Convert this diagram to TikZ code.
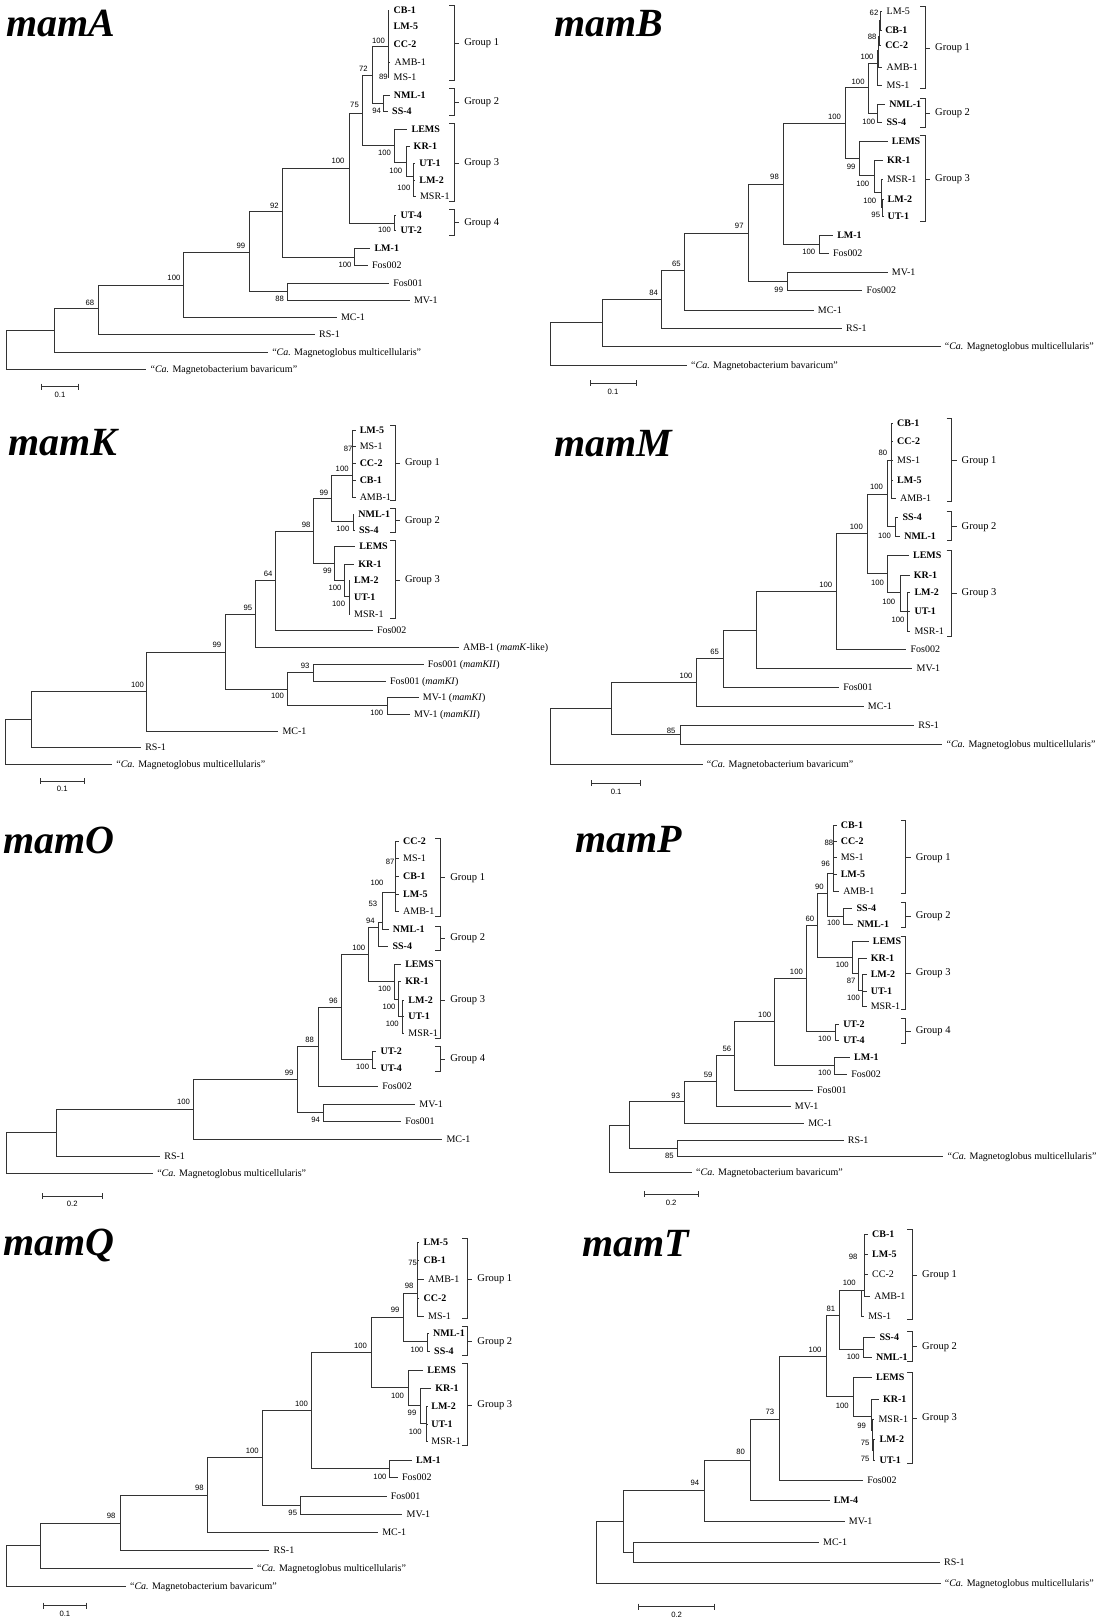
\documentclass[tikz,border=0pt]{standalone}
\usepackage{fontspec}
\setmainfont{Liberation Serif}
\newfontfamily\arialf{Liberation Sans}
\newcommand\labfont{\fontsize{10}{11}\selectfont}
\newcommand\labbfont{\fontsize{10}{11}\selectfont\bfseries}
\newcommand\bsfont{\arialf\fontsize{7.7}{8}\selectfont}
\newcommand\grfont{\fontsize{10.5}{11}\selectfont}
\newcommand\tifont{\fontsize{40}{42}\selectfont\bfseries\itshape}
\newcommand\MGm{``\textit{Ca.} Magnetoglobus multicellularis''}
\newcommand\MBb{``\textit{Ca.} Magnetobacterium bavaricum''}
\newcounter{nn}
\tikzset{
  br/.style={line width=0.8pt, draw=black!80},
  lfn/.style={anchor=west, inner xsep=4pt, inner ysep=0pt, font=\labfont, text height=6.6pt, text depth=0pt},
  lfbold/.style={lfn, font=\labbfont},
  bsn/.style={inner sep=0pt, font=\bsfont},
  grpn/.style={anchor=west, inner sep=0pt, font=\grfont},
  ttln/.style={anchor=base west, inner sep=0pt, font=\tifont},
  pan/.style={x=0.35273pt, y=-0.33333pt}
}
\newcommand\tLf[3]{\stepcounter{nn}\node[lfn] (n\arabic{nn}) at (#1) {#2}; \draw[br] (#3) |- (n\arabic{nn}.west);}
\newcommand\tLb[3]{\stepcounter{nn}\node[lfbold] (n\arabic{nn}) at (#1) {#2}; \draw[br] (#3) |- (n\arabic{nn}.west);}
\newcommand\tBs[2]{\stepcounter{nn}\node[bsn] (n\arabic{nn}) at (#1) {#2};}
\newcommand\tIn[3]{\coordinate (#1) at (#2); \draw[br] (#3) |- (#1);}
\newcommand\tGr[5]{\stepcounter{nn}\draw[br] (#1-14,#2) -- (#1,#2) -- (#1,#3) -- (#1-14,#3); \draw[br] (#1,#4) -- (#1+14,#4); \node[grpn] (n\arabic{nn}) at (#1+28,#4) {#5};}
\newcommand\tSb[4]{\stepcounter{nn}\draw[br] (#1,#3-9) -- (#1,#3+9) (#1,#3) -- (#2,#3) (#2,#3-9) -- (#2,#3+9); \node[bsn] (n\arabic{nn}) at ({(#1+#2)/2},#3+25) {#4};}
\newcommand\tTi[2]{\stepcounter{nn}\node[ttln] (n\arabic{nn}) at (#1) {#2};}
\begin{document}
\begin{tikzpicture}[x=1pt,y=-1pt]
\fill[white] (0,0) rectangle (1106,1620);
\useasboundingbox (0,0) rectangle (1106,1620);

% ---------------- mamA ----------------
\begin{scope}[shift={(0pt,0pt)},pan]
\tTi{18,110}{mamA}
\coordinate (A0) at (17,1049);
\tLf{415,1108}{\MBb}{A0}
\tIn{A1}{155,990}{A0}
\tLf{760,1057}{\MGm}{A1}
\tIn{A2}{280,925}{A1} \tBs{255,908}{68}
\tLf{893,1003}{RS-1}{A2}
\tIn{A3}{520,855}{A2} \tBs{493,835}{100}
\tLf{955,953}{MC-1}{A3}
\tIn{A4}{707,757}{A3} \tBs{683,737}{99}
\tIn{A6}{815,875}{A4} \tBs{793,898}{88}
\tLf{1103,850}{Fos001}{A6}
\tLf{1162,902}{MV-1}{A6}
\tIn{A5}{800,635}{A4} \tBs{778,617}{92}
\tIn{A8}{1005,772}{A5} \tBs{978,795}{100}
\tLb{1050,745}{LM-1}{A8}
\tLf{1043,797}{Fos002}{A8}
\tIn{A7}{990,505}{A5} \tBs{958,482}{100}
\tIn{A10}{1117,670}{A7} \tBs{1090,690}{100}
\tLb{1124,645}{UT-4}{A10}
\tLb{1124,692}{UT-2}{A10}
\tIn{A9}{1028,340}{A7} \tBs{1005,315}{75}
\tIn{A12}{1117,437}{A9} \tBs{1090,460}{100}
\tLb{1155,388}{LEMS}{A12}
\tIn{A13}{1153,487}{A12} \tBs{1122,512}{100}
\tLb{1161,440}{KR-1}{A13}
\tIn{A14}{1172,530}{A13} \tBs{1145,563}{100}
\tLb{1177,490}{UT-1}{A14}
\tLb{1177,542}{LM-2}{A14}
\tLf{1179,590}{MSR-1}{A14}
\tIn{A11}{1057,225}{A9} \tBs{1030,207}{72}
\tIn{A16}{1088,310}{A11} \tBs{1068,332}{94}
\tLb{1105,287}{NML-1}{A16}
\tLb{1100,335}{SS-4}{A16}
\tIn{A15}{1100,140}{A11} \tBs{1073,123}{100}
\tLb{1104,32}{CB-1}{A15}
\tLb{1104,78}{LM-5}{A15}
\tLb{1104,133}{CC-2}{A15}
\tLf{1107,186}{AMB-1}{A15}
\tLf{1104,232}{MS-1}{A15}
\tBs{1087,230}{89}
\tGr{1288}{15}{240}{130}{Group 1}
\tGr{1288}{265}{345}{307}{Group 2}
\tGr{1288}{370}{605}{490}{Group 3}
\tGr{1288}{628}{707}{668}{Group 4}
\tSb{118}{222}{1160}{0.1}
\end{scope}

% ---------------- mamB ----------------
\begin{scope}[shift={(553pt,0pt)},pan]
\tTi{4,108}{mamB}
\coordinate (B0) at (-6,1032);
\tLf{380,1097}{\MBb}{B0}
\tIn{B1}{140,968}{B0}
\tLf{1099,1040}{\MGm}{B1}
\tIn{B2}{308,898}{B1} \tBs{285,878}{84}
\tLf{819,985}{RS-1}{B2}
\tIn{B3}{373,812}{B2} \tBs{350,793}{65}
\tLf{739,930}{MC-1}{B3}
\tIn{B4}{553,700}{B3} \tBs{528,678}{97}
\tIn{B6}{665,845}{B4} \tBs{640,870}{99}
\tLf{949,818}{MV-1}{B6}
\tLf{877,872}{Fos002}{B6}
\tIn{B5}{653,553}{B4} \tBs{628,532}{98}
\tIn{B8}{755,733}{B5} \tBs{725,757}{100}
\tLb{794,705}{LM-1}{B8}
\tLf{782,760}{Fos002}{B8}
\tIn{B7}{828,370}{B5} \tBs{798,350}{100}
\tIn{B10}{870,475}{B7} \tBs{845,500}{99}
\tLb{949,425}{LEMS}{B10}
\tIn{B11}{910,525}{B10} \tBs{878,553}{100}
\tLb{935,480}{KR-1}{B11}
\tIn{B12}{930,578}{B11} \tBs{898,603}{100}
\tLf{935,537}{MSR-1}{B12}
\tIn{B13}{934,622}{B12} \tBs{915,645}{95}
\tLb{937,597}{LM-2}{B13}
\tLb{937,650}{UT-1}{B13}
\tIn{B9}{893,262}{B7} \tBs{865,245}{100}
\tIn{B15}{920,340}{B9} \tBs{895,365}{100}
\tLb{942,313}{NML-1}{B15}
\tLb{934,368}{SS-4}{B15}
\tIn{B14}{920,190}{B9} \tBs{890,170}{100}
\tLf{934,255}{MS-1}{B14}
\tIn{B16}{923,150}{B14}
\tLf{934,203}{AMB-1}{B16}
\tIn{B17}{926,110}{B16} \tBs{905,110}{88}
\tLb{930,135}{CC-2}{B17}
\tIn{B18}{929,62}{B17} \tBs{910,40}{62}
\tLf{934,33}{LM-5}{B18}
\tLb{930,90}{CB-1}{B18}
\tGr{1055}{18}{265}{145}{Group 1}
\tGr{1055}{295}{383}{340}{Group 2}
\tGr{1055}{405}{665}{537}{Group 3}
\tSb{105}{235}{1150}{0.1}
\end{scope}

% ---------------- mamK ----------------
\begin{scope}[shift={(0pt,-410pt)},pan]
\tTi{23,135}{mamK}
\coordinate (K0) at (15,995);
\tLf{318,1063}{\MGm}{K0}
\tIn{K1}{88,927}{K0}
\tLf{400,1013}{RS-1}{K1}
\tIn{K2}{415,843}{K1} \tBs{390,825}{100}
\tLf{789,963}{MC-1}{K2}
\tIn{K3}{638,727}{K2} \tBs{615,705}{99}
\tIn{K5}{815,837}{K3} \tBs{787,858}{100}
\tIn{K6}{888,788}{K5} \tBs{865,768}{93}
\tLf{1201,763}{Fos001 (\textit{mamKII})}{K6}
\tLf{1094,815}{Fos001 (\textit{mamKI})}{K6}
\tIn{K7}{1097,887}{K5} \tBs{1068,910}{100}
\tLf{1187,862}{MV-1 (\textit{mamKI})}{K7}
\tLf{1162,912}{MV-1 (\textit{mamKII})}{K7}
\tIn{K4}{725,613}{K3} \tBs{703,593}{95}
\tLf{1301,712}{AMB-1 (\textit{mamK}-like)}{K4}
\tIn{K8}{782,510}{K4} \tBs{760,493}{64}
\tLf{1057,660}{Fos002}{K8}
\tIn{K9}{888,365}{K8} \tBs{868,345}{98}
\tIn{K10}{940,265}{K9} \tBs{918,248}{99}
\tIn{K13}{1002,333}{K10} \tBs{972,357}{100}
\tLb{1004,313}{NML-1}{K13}
\tLb{1006,360}{SS-4}{K13}
\tIn{K12}{1000,197}{K10} \tBs{970,178}{100}
\tLb{1008,60}{LM-5}{K12}
\tLf{1008,110}{MS-1}{K12}
\tLb{1008,160}{CC-2}{K12}
\tLb{1008,212}{CB-1}{K12}
\tLf{1008,262}{AMB-1}{K12}
\tBs{987,117}{87}
\tIn{K11}{948,460}{K9} \tBs{928,483}{99}
\tLb{1007,410}{LEMS}{K11}
\tIn{K14}{975,510}{K11} \tBs{950,533}{100}
\tLb{1004,463}{KR-1}{K14}
\tIn{K15}{990,560}{K14} \tBs{960,583}{100}
\tLb{992,510}{LM-2}{K15}
\tLb{992,563}{UT-1}{K15}
\tLf{992,612}{MSR-1}{K15}
\tGr{1120}{45}{270}{160}{Group 1}
\tGr{1120}{295}{368}{332}{Group 2}
\tGr{1120}{390}{625}{510}{Group 3}
\tSb{115}{238}{1113}{0.1}
\end{scope}

% ---------------- mamM ----------------
\begin{scope}[shift={(553pt,-410pt)},pan]
\tTi{4,138}{mamM}
\coordinate (M0) at (-6,980);
\tLf{424,1063}{\MBb}{M0}
\tIn{M1}{165,895}{M0}
\tIn{M3}{360,973}{M1} \tBs{335,962}{85}
\tLf{1024,945}{RS-1}{M3}
\tLf{1104,1003}{\MGm}{M3}
\tIn{M2}{407,817}{M1} \tBs{377,797}{100}
\tLf{881,888}{MC-1}{M2}
\tIn{M4}{483,745}{M2} \tBs{458,725}{65}
\tLf{811,833}{Fos001}{M4}
\tIn{M5}{578,660}{M4}
\tLf{1019,775}{MV-1}{M5}
\tIn{M6}{803,545}{M5} \tBs{773,525}{100}
\tLf{1002,718}{Fos002}{M6}
\tIn{M7}{890,370}{M6} \tBs{860,350}{100}
\tIn{M8}{947,253}{M7} \tBs{917,230}{100}
\tIn{M11}{972,350}{M8} \tBs{940,377}{100}
\tLb{979,323}{SS-4}{M11}
\tLb{984,380}{NML-1}{M11}
\tIn{M10}{960,150}{M8} \tBs{935,130}{80}
\tLb{964,40}{CB-1}{M10}
\tLb{964,95}{CC-2}{M10}
\tLf{964,150}{MS-1}{M10}
\tLb{964,210}{LM-5}{M10}
\tLf{972,265}{AMB-1}{M10}
\tIn{M9}{948,490}{M7} \tBs{920,518}{100}
\tLb{1009,437}{LEMS}{M9}
\tIn{M12}{985,548}{M9} \tBs{952,575}{100}
\tLb{1011,495}{KR-1}{M12}
\tIn{M13}{1005,605}{M12} \tBs{978,630}{100}
\tLb{1013,548}{LM-2}{M13}
\tLb{1013,605}{UT-1}{M13}
\tLf{1013,663}{MSR-1}{M13}
\tGr{1130}{25}{275}{152}{Group 1}
\tGr{1130}{303}{390}{350}{Group 2}
\tGr{1130}{420}{678}{550}{Group 3}
\tSb{110}{248}{1120}{0.1}
\end{scope}

% ---------------- mamO ----------------
\begin{scope}[shift={(0pt,-820pt)},pan]
\tTi{8,100}{mamO}
\coordinate (O0) at (17,1000);
\tLf{434,1060}{\MGm}{O0}
\tIn{O1}{160,937}{O0}
\tLf{454,1008}{RS-1}{O1}
\tIn{O2}{548,867}{O1} \tBs{520,847}{100}
\tLf{1254,957}{MC-1}{O2}
\tIn{O3}{843,777}{O2} \tBs{820,758}{99}
\tIn{O5}{918,877}{O3} \tBs{895,900}{94}
\tLf{1177,852}{MV-1}{O5}
\tLf{1137,903}{Fos001}{O5}
\tIn{O4}{903,680}{O3} \tBs{878,660}{88}
\tLf{1072,798}{Fos002}{O4}
\tIn{O6}{967,562}{O4} \tBs{945,542}{96}
\tIn{O8}{1057,718}{O6} \tBs{1028,742}{100}
\tLb{1067,693}{UT-2}{O8}
\tLb{1067,745}{UT-4}{O8}
\tIn{O7}{1045,403}{O6} \tBs{1017,383}{100}
\tIn{O9}{1074,322}{O7} \tBs{1050,302}{94}
\tLb{1101,378}{SS-4}{O9}
\tIn{O11}{1083,306}{O9} \tBs{1057,252}{53}
\tLb{1102,327}{NML-1}{O11}
\tIn{O12}{1120,216}{O11} \tBs{1069,189}{100}
\tLb{1131,65}{CC-2}{O12}
\tLf{1131,115}{MS-1}{O12}
\tLb{1131,170}{CB-1}{O12}
\tLb{1131,222}{LM-5}{O12}
\tLf{1131,275}{AMB-1}{O12}
\tBs{1106,126}{87}
\tIn{O10}{1118,485}{O7} \tBs{1090,508}{100}
\tLb{1137,433}{LEMS}{O10}
\tIn{O13}{1130,538}{O10} \tBs{1103,560}{100}
\tLb{1137,485}{KR-1}{O13}
\tIn{O14}{1140,590}{O13} \tBs{1112,612}{100}
\tLb{1146,540}{LM-2}{O14}
\tLb{1146,590}{UT-1}{O14}
\tLf{1146,640}{MSR-1}{O14}
\tGr{1248}{55}{288}{173}{Group 1}
\tGr{1248}{318}{390}{355}{Group 2}
\tGr{1248}{422}{655}{540}{Group 3}
\tGr{1248}{680}{755}{718}{Group 4}
\tSb{120}{290}{1128}{0.2}
\end{scope}

% ---------------- mamP ----------------
\begin{scope}[shift={(553pt,-810pt)},pan]
\tTi{63,128}{mamP}
\coordinate (P0) at (160,1015);
\tLf{394,1088}{\MBb}{P0}
\tIn{P1}{217,945}{P0}
\tIn{P3}{352,1015}{P1} \tBs{330,1037}{85}
\tLf{824,990}{RS-1}{P3}
\tLf{1107,1038}{\MGm}{P3}
\tIn{P2}{372,875}{P1} \tBs{348,858}{93}
\tLf{712,940}{MC-1}{P2}
\tIn{P4}{462,813}{P2} \tBs{440,795}{59}
\tLf{674,890}{MV-1}{P4}
\tIn{P5}{515,737}{P4} \tBs{493,718}{56}
\tLf{737,842}{Fos001}{P5}
\tIn{P6}{627,635}{P5} \tBs{600,615}{100}
\tIn{P8}{798,767}{P6} \tBs{770,788}{100}
\tLb{842,742}{LM-1}{P8}
\tLf{834,793}{Fos002}{P8}
\tIn{P7}{717,505}{P6} \tBs{690,487}{100}
\tIn{P10}{800,665}{P7} \tBs{770,688}{100}
\tLb{811,642}{UT-2}{P10}
\tLb{811,692}{UT-4}{P10}
\tIn{P9}{750,345}{P7} \tBs{728,327}{60}
\tIn{P12}{848,443}{P9} \tBs{820,465}{100}
\tLb{895,395}{LEMS}{P12}
\tIn{P13}{865,490}{P12}
\tLb{889,445}{KR-1}{P13}
\tIn{P14}{878,540}{P13} \tBs{845,513}{87} \tBs{852,563}{100}
\tLb{889,493}{LM-2}{P14}
\tLb{889,543}{UT-1}{P14}
\tLf{889,590}{MSR-1}{P14}
\tIn{P11}{777,250}{P9} \tBs{755,232}{90}
\tIn{P16}{822,318}{P11} \tBs{795,340}{100}
\tLb{849,295}{SS-4}{P16}
\tLb{851,343}{NML-1}{P16}
\tIn{P15}{795,190}{P11} \tBs{773,163}{96}
\tLb{804,47}{CB-1}{P15}
\tLb{804,93}{CC-2}{P15}
\tLf{804,142}{MS-1}{P15}
\tLb{804,193}{LM-5}{P15}
\tLf{811,243}{AMB-1}{P15}
\tBs{782,100}{88}
\tGr{1000}{32}{250}{143}{Group 1}
\tGr{1000}{278}{352}{318}{Group 2}
\tGr{1000}{380}{597}{490}{Group 3}
\tGr{1000}{625}{700}{663}{Group 4}
\tSb{258}{412}{1153}{0.2}
\end{scope}

% ---------------- mamQ ----------------
\begin{scope}[shift={(0pt,-1220pt)},pan]
\tTi{8,105}{mamQ}
\coordinate (Q0) at (17,1040);
\tLf{357,1100}{\MBb}{Q0}
\tIn{Q1}{115,975}{Q0}
\tLf{717,1045}{\MGm}{Q1}
\tIn{Q2}{340,910}{Q1} \tBs{315,888}{98}
\tLf{764,990}{RS-1}{Q2}
\tIn{Q3}{588,825}{Q2} \tBs{565,805}{98}
\tLf{1072,937}{MC-1}{Q3}
\tIn{Q4}{745,713}{Q3} \tBs{715,693}{100}
\tIn{Q6}{853,855}{Q4} \tBs{830,880}{95}
\tLf{1096,828}{Fos001}{Q6}
\tLf{1141,882}{MV-1}{Q6}
\tIn{Q5}{883,572}{Q4} \tBs{855,553}{100}
\tIn{Q8}{1105,745}{Q5} \tBs{1077,770}{100}
\tLb{1168,722}{LM-1}{Q8}
\tLf{1128,772}{Fos002}{Q8}
\tIn{Q7}{1052,398}{Q5} \tBs{1022,378}{100}
\tIn{Q10}{1157,502}{Q7} \tBs{1127,527}{100}
\tLb{1200,450}{LEMS}{Q10}
\tIn{Q11}{1193,557}{Q10} \tBs{1168,580}{99}
\tLb{1222,505}{KR-1}{Q11}
\tIn{Q12}{1210,610}{Q11} \tBs{1177,635}{100}
\tLb{1211,560}{LM-2}{Q12}
\tLb{1211,613}{UT-1}{Q12}
\tLf{1211,665}{MSR-1}{Q12}
\tIn{Q9}{1143,293}{Q7} \tBs{1120,270}{99}
\tIn{Q14}{1212,365}{Q9} \tBs{1182,390}{100}
\tLb{1216,340}{NML-1}{Q14}
\tLb{1219,395}{SS-4}{Q14}
\tIn{Q13}{1183,220}{Q9} \tBs{1160,198}{98}
\tLb{1189,68}{LM-5}{Q13}
\tLb{1189,122}{CB-1}{Q13}
\tLf{1202,178}{AMB-1}{Q13}
\tLb{1189,235}{CC-2}{Q13}
\tLf{1202,288}{MS-1}{Q13}
\tBs{1170,130}{75}
\tGr{1325}{55}{295}{178}{Group 1}
\tGr{1325}{320}{407}{365}{Group 2}
\tGr{1325}{430}{677}{555}{Group 3}
\tSb{123}{245}{1157}{0.1}
\end{scope}

% ---------------- mamT ----------------
\begin{scope}[shift={(553pt,-1220pt)},pan]
\tTi{83,110}{mamT}
\coordinate (T0) at (123,1000);
\tLf{1099,1090}{\MGm}{T0}
\tIn{T1}{200,905}{T0}
\tIn{T3}{227,998}{T1}
\tLf{754,967}{MC-1}{T3}
\tLf{1097,1027}{RS-1}{T3}
\tIn{T2}{430,812}{T1} \tBs{402,790}{94}
\tLf{827,905}{MV-1}{T2}
\tIn{T4}{560,720}{T2} \tBs{532,697}{80}
\tLb{784,842}{LM-4}{T4}
\tIn{T5}{643,597}{T4} \tBs{615,575}{73}
\tLf{879,782}{Fos002}{T5}
\tIn{T6}{774,410}{T5} \tBs{743,390}{100}
\tIn{T8}{852,530}{T6} \tBs{820,558}{100}
\tLb{904,473}{LEMS}{T8}
\tIn{T9}{903,590}{T8}
\tLb{924,537}{KR-1}{T9}
\tIn{T10}{905,630}{T9} \tBs{875,617}{99}
\tLf{911,598}{MSR-1}{T10}
\tIn{T11}{907,690}{T10} \tBs{885,670}{75}
\tLb{914,657}{LM-2}{T11}
\tLb{914,720}{UT-1}{T11}
\tBs{885,717}{75}
\tIn{T7}{811,285}{T6} \tBs{788,267}{81}
\tIn{T14}{880,387}{T7} \tBs{851,412}{100}
\tLb{914,352}{SS-4}{T14}
\tLb{904,412}{NML-1}{T14}
\tIn{T13}{874,210}{T7} \tBs{840,190}{100}
\tLf{882,290}{MS-1}{T13}
\tIn{T15}{882,210}{T13} \tBs{851,111}{98}
\tLb{893,43}{CB-1}{T15}
\tLb{893,102}{LM-5}{T15}
\tLf{893,163}{CC-2}{T15}
\tLf{899,228}{AMB-1}{T15}
\tGr{1018}{28}{298}{165}{Group 1}
\tGr{1018}{335}{425}{380}{Group 2}
\tGr{1018}{458}{730}{595}{Group 3}
\tSb{243}{458}{1160}{0.2}
\end{scope}
\end{tikzpicture}
\end{document}
